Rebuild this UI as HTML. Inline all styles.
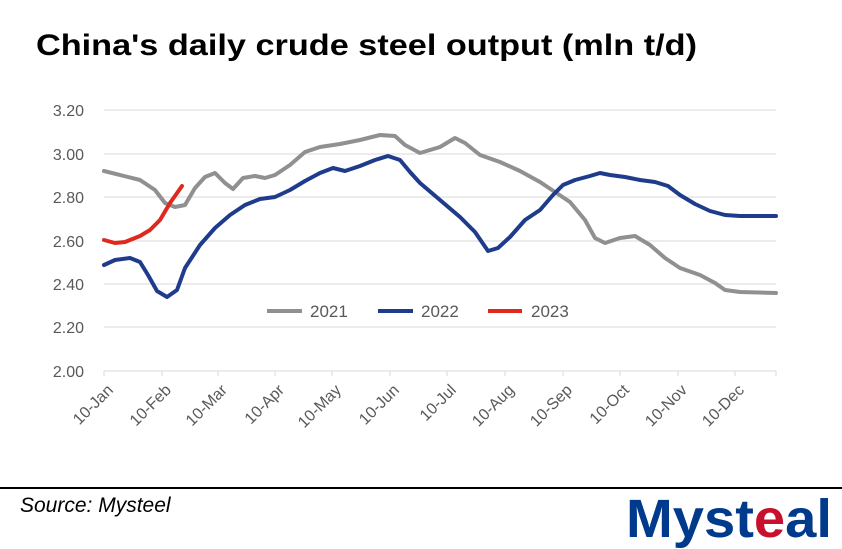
<!DOCTYPE html>
<html><head><meta charset="utf-8"><style>
body{margin:0;background:#fff;}
svg{display:block;font-family:"Liberation Sans",Arial,sans-serif;}
</style></head><body>
<svg width="842" height="549" viewBox="0 0 842 549">
<text x="36" y="55" font-size="30" font-weight="bold" fill="#000" textLength="661" lengthAdjust="spacingAndGlyphs">China's daily crude steel output (mln t/d)</text>
<g stroke="#d9d9d9" stroke-width="1">
<line x1="104" x2="776" y1="110" y2="110"/><line x1="104" x2="776" y1="154" y2="154"/>
<line x1="104" x2="776" y1="197" y2="197"/><line x1="104" x2="776" y1="241" y2="241"/>
<line x1="104" x2="776" y1="284" y2="284"/><line x1="104" x2="776" y1="327" y2="327"/>
<line x1="104" x2="776" y1="371" y2="371"/>
<path d="M104,371v5M162,371v5M218,371v5M275,371v5M332,371v5M390,371v5M447,371v5M505,371v5M563,371v5M620,371v5M678,371v5M735,371v5M776,371v5"/>
</g>
<g font-size="16" fill="#595959" text-anchor="end">
<text x="84" y="116">3.20</text><text x="84" y="160">3.00</text><text x="84" y="203">2.80</text>
<text x="84" y="247">2.60</text><text x="84" y="290">2.40</text><text x="84" y="333">2.20</text><text x="84" y="377">2.00</text>
</g>
<g font-size="16" fill="#595959" text-anchor="end">
<text transform="translate(114,391) rotate(-45)">10-Jan</text>
<text transform="translate(172,391) rotate(-45)">10-Feb</text>
<text transform="translate(228,391) rotate(-45)">10-Mar</text>
<text transform="translate(285,391) rotate(-45)">10-Apr</text>
<text transform="translate(342,391) rotate(-45)">10-May</text>
<text transform="translate(400,391) rotate(-45)">10-Jun</text>
<text transform="translate(457,391) rotate(-45)">10-Jul</text>
<text transform="translate(515,391) rotate(-45)">10-Aug</text>
<text transform="translate(573,391) rotate(-45)">10-Sep</text>
<text transform="translate(630,391) rotate(-45)">10-Oct</text>
<text transform="translate(688,391) rotate(-45)">10-Nov</text>
<text transform="translate(745,391) rotate(-45)">10-Dec</text>
</g>
<g fill="none" stroke-width="4" stroke-linejoin="round" stroke-linecap="round">
<polyline stroke="#909090" points="104,171 140,180 155,190 165,203 175,207 185,205 195,188 205,177 215,173 225,183 233,189 243,178 255,176 265,178 275,175 290,165 305,152 320,147 340,144 360,140 380,135 395,136 405,145 420,153 440,147 455,138 465,143 480,155 500,162 520,171 540,182 555,192 570,202 585,220 595,238 605,243 620,238 635,236 650,245 665,258 680,268 700,275 715,283 725,290 740,292 776,293"/>
<polyline stroke="#1f3b8c" points="104,265 115,260 130,258 140,262 148,275 157,291 167,297 177,290 185,268 200,245 215,228 230,215 245,205 260,199 275,197 290,190 305,181 320,173 333,168 345,171 360,166 375,160 388,156 400,160 410,172 420,183 440,200 460,217 475,232 488,251 498,248 510,237 525,220 540,210 553,195 563,185 575,180 590,176 600,173 610,175 625,177 640,180 655,182 668,186 680,195 695,204 710,211 725,215 740,216 776,216"/>
<polyline stroke="#e0291e" points="104,240 115,243 125,242 140,236 150,230 160,220 170,203 182,186"/>
</g>
<g stroke-width="4">
<line x1="267" x2="302" y1="311" y2="311" stroke="#909090"/>
<line x1="378" x2="413" y1="311" y2="311" stroke="#1f3b8c"/>
<line x1="488" x2="522" y1="311" y2="311" stroke="#e0291e"/>
</g>
<g font-size="17" fill="#595959">
<text x="310" y="317">2021</text><text x="421" y="317">2022</text><text x="531" y="317">2023</text>
</g>
<line x1="0" x2="842" y1="488" y2="488" stroke="#000" stroke-width="2"/>
<text x="20" y="512" font-size="21" font-style="italic" fill="#000">Source: Mysteel</text>
<text x="626" y="537" font-size="54" font-weight="bold" fill="#003a8c" textLength="206" lengthAdjust="spacingAndGlyphs">Myst<tspan fill="#c8102e">e</tspan>al</text>
</svg>
</body></html>
